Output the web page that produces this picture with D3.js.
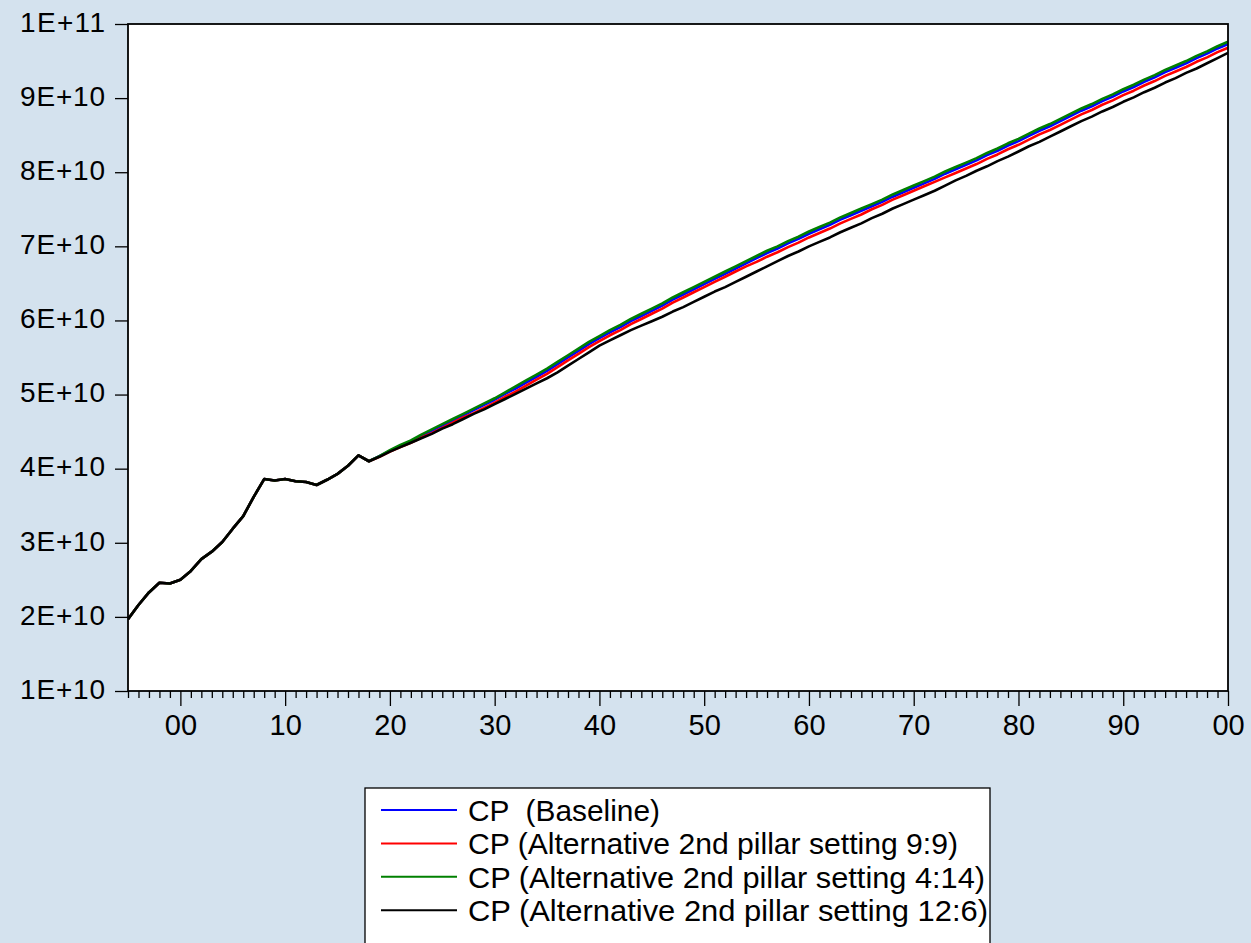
<!DOCTYPE html>
<html>
<head>
<meta charset="utf-8">
<script src="https://cdn.jsdelivr.net/npm/d3@7"></script>
<style>
  html, body { margin: 0; padding: 0; background: #D4E2EE; }
  svg { display: block; }
  text { font-family: "Liberation Sans", Arial, sans-serif; fill: #000; }
</style>
</head>
<body>
<svg id="chart" width="1251" height="943"></svg>
<script>
// ---------------- DATA (values in units of 1E+10) ----------------
const UNIT = 1e10;
const histYears = d3.range(1995, 2019);            // 1995..2018
const projYears = d3.range(2019, 2101);            // 2019..2100
const histValues = [1.97, 2.16, 2.33, 2.46, 2.45, 2.50, 2.62, 2.78, 2.88, 3.01,
                    3.19, 3.36, 3.62, 3.86, 3.84, 3.86, 3.83, 3.82, 3.78, 3.85,
                    3.93, 4.04, 4.18, 4.10];
const baselineProj = [4.17, 4.24, 4.31, 4.37, 4.44, 4.51, 4.58, 4.65, 4.72, 4.79,
  4.86, 4.93, 5.01, 5.08, 5.16, 5.24, 5.32, 5.41, 5.50, 5.59,
  5.68, 5.76, 5.84, 5.91, 5.99, 6.06, 6.13, 6.20, 6.28, 6.35,
  6.42, 6.49, 6.56, 6.63, 6.70, 6.77, 6.84, 6.91, 6.97, 7.04,
  7.10, 7.17, 7.23, 7.29, 7.36, 7.42, 7.48, 7.54, 7.60, 7.67,
  7.73, 7.79, 7.85, 7.91, 7.98, 8.04, 8.10, 8.16, 8.23, 8.29,
  8.36, 8.42, 8.49, 8.56, 8.62, 8.69, 8.76, 8.83, 8.89, 8.96,
  9.02, 9.09, 9.15, 9.22, 9.28, 9.35, 9.41, 9.47, 9.54, 9.60,
  9.67, 9.73];
const alt99Proj = [4.16, 4.23, 4.29, 4.35, 4.42, 4.48, 4.55, 4.62, 4.69, 4.75,
  4.82, 4.89, 4.97, 5.04, 5.12, 5.20, 5.28, 5.37, 5.46, 5.55,
  5.64, 5.72, 5.80, 5.87, 5.95, 6.02, 6.09, 6.16, 6.24, 6.31,
  6.38, 6.45, 6.52, 6.59, 6.66, 6.73, 6.79, 6.86, 6.92, 6.99,
  7.05, 7.12, 7.18, 7.24, 7.31, 7.37, 7.43, 7.50, 7.56, 7.63,
  7.69, 7.75, 7.81, 7.87, 7.93, 7.99, 8.05, 8.11, 8.18, 8.24,
  8.31, 8.37, 8.44, 8.51, 8.57, 8.64, 8.71, 8.78, 8.84, 8.91,
  8.97, 9.04, 9.10, 9.17, 9.23, 9.30, 9.36, 9.42, 9.49, 9.55,
  9.62, 9.68];
const alt414Proj = [4.17, 4.25, 4.32, 4.38, 4.46, 4.53, 4.60, 4.67, 4.74, 4.81,
  4.88, 4.95, 5.03, 5.11, 5.19, 5.27, 5.35, 5.44, 5.53, 5.62,
  5.71, 5.79, 5.87, 5.94, 6.02, 6.09, 6.16, 6.23, 6.31, 6.38,
  6.45, 6.52, 6.59, 6.66, 6.73, 6.80, 6.87, 6.94, 7.00, 7.07,
  7.13, 7.20, 7.26, 7.32, 7.39, 7.45, 7.51, 7.57, 7.63, 7.70,
  7.76, 7.82, 7.88, 7.94, 8.01, 8.07, 8.13, 8.19, 8.26, 8.32,
  8.39, 8.45, 8.52, 8.59, 8.65, 8.72, 8.79, 8.86, 8.92, 8.99,
  9.05, 9.12, 9.18, 9.25, 9.31, 9.38, 9.44, 9.50, 9.57, 9.63,
  9.70, 9.76];
const alt126Proj = [4.16, 4.23, 4.29, 4.35, 4.41, 4.47, 4.54, 4.60, 4.67, 4.74,
  4.80, 4.87, 4.94, 5.01, 5.08, 5.15, 5.22, 5.30, 5.39, 5.48,
  5.57, 5.66, 5.73, 5.80, 5.87, 5.93, 5.99, 6.05, 6.12, 6.18,
  6.25, 6.32, 6.39, 6.45, 6.52, 6.59, 6.66, 6.73, 6.80, 6.87,
  6.93, 7.00, 7.06, 7.12, 7.19, 7.25, 7.31, 7.38, 7.44, 7.51,
  7.57, 7.63, 7.69, 7.75, 7.82, 7.89, 7.95, 8.02, 8.08, 8.15,
  8.21, 8.28, 8.35, 8.41, 8.48, 8.55, 8.62, 8.69, 8.75, 8.82,
  8.88, 8.95, 9.01, 9.08, 9.14, 9.21, 9.27, 9.34, 9.40, 9.47,
  9.54, 9.61];

const seriesNames = ["CP  (Baseline)",
                     "CP (Alternative 2nd pillar setting 9:9)",
                     "CP (Alternative 2nd pillar setting 4:14)",
                     "CP (Alternative 2nd pillar setting 12:6)"];
const seriesColors = ["#0000FF", "#FF0000", "#008000", "#000000"];
const seriesProj = [baselineProj, alt99Proj, alt414Proj, alt126Proj];
const legendTextWidths = [192, 490, 517, 520];

const yTickValues = d3.range(1, 11);   // 1E+10 .. 1E+11 (units of 1E+10)
const yTickLabels = ["1E+10","2E+10","3E+10","4E+10","5E+10","6E+10","7E+10","8E+10","9E+10","1E+11"];
const xMajorYears = d3.range(2000, 2101, 10);
const xMajorLabels = ["00","10","20","30","40","50","60","70","80","90","00"];

// ---------------- LAYOUT ----------------
const svg = d3.select("#chart");
const plot = { left: 128, top: 24, right: 1228, bottom: 691 };

const x = d3.scaleLinear().domain([1995, 2100]).range([plot.left, plot.right]);
const y = d3.scaleLinear().domain([1 * UNIT, 10 * UNIT]).range([plot.bottom, plot.top]);

svg.append("rect").attr("width", 1251).attr("height", 943).attr("fill", "#D4E2EE");
svg.append("rect")
  .attr("x", plot.left).attr("y", plot.top)
  .attr("width", plot.right - plot.left).attr("height", plot.bottom - plot.top)
  .attr("fill", "#FFFFFF");

// series lines
const allYears = histYears.concat(projYears);
const line = d3.line().x(d => x(d.year)).y(d => y(d.value * UNIT));
const series = seriesProj.map((proj, i) => ({
  name: seriesNames[i], color: seriesColors[i], textWidth: legendTextWidths[i],
  values: allYears.map((yr, j) => ({ year: yr, value: histValues.concat(proj)[j] }))
}));

svg.append("clipPath").attr("id", "clip").append("rect")
  .attr("x", plot.left).attr("y", plot.top)
  .attr("width", plot.right - plot.left).attr("height", plot.bottom - plot.top);

svg.append("g").attr("clip-path", "url(#clip)")
  .selectAll("path").data(series).join("path")
  .attr("d", d => line(d.values))
  .attr("fill", "none")
  .attr("stroke", d => d.color)
  .attr("stroke-width", 2.6)
  .attr("stroke-linejoin", "round");

// frame
svg.append("rect")
  .attr("x", plot.left).attr("y", plot.top)
  .attr("width", plot.right - plot.left).attr("height", plot.bottom - plot.top)
  .attr("fill", "none").attr("stroke", "#000").attr("stroke-width", 1.8);

// Y axis
const yAxis = d3.axisLeft(y)
  .tickValues(yTickValues.map(v => v * UNIT))
  .tickFormat((d, i) => yTickLabels[i])
  .tickSize(13).tickPadding(10);
const gy = svg.append("g").attr("transform", `translate(${plot.left},0)`).call(yAxis);
gy.select(".domain").remove();
gy.selectAll(".tick line").attr("stroke", "#000").attr("stroke-width", 1.3);
gy.selectAll(".tick text")
  .attr("font-family", "Liberation Sans, Arial, sans-serif")
  .attr("font-size", 28).attr("dy", "0.26em")
  .attr("textLength", 85).attr("lengthAdjust", "spacing");

// X axis minor ticks (every year)
const xMinor = d3.axisBottom(x)
  .tickValues(d3.range(1995, 2101).filter(v => v % 10 !== 0))
  .tickFormat("").tickSize(7);
const gxm = svg.append("g").attr("transform", `translate(0,${plot.bottom})`).call(xMinor);
gxm.select(".domain").remove();
gxm.selectAll(".tick line").attr("stroke", "#000").attr("stroke-width", 1.3);

// X axis major ticks
const xMajor = d3.axisBottom(x)
  .tickValues(xMajorYears)
  .tickFormat((d, i) => xMajorLabels[i])
  .tickSize(15).tickPadding(8);
const gx = svg.append("g").attr("transform", `translate(0,${plot.bottom})`).call(xMajor);
gx.select(".domain").remove();
gx.selectAll(".tick line").attr("stroke", "#000").attr("stroke-width", 1.3);
gx.selectAll(".tick text")
  .attr("font-family", "Liberation Sans, Arial, sans-serif")
  .attr("font-size", 29).attr("dy", "0.71em");

// Legend
const lg = svg.append("g");
lg.append("rect").attr("x", 365).attr("y", 788).attr("width", 625).attr("height", 200)
  .attr("fill", "#FFFFFF").attr("stroke", "#000").attr("stroke-width", 1.3);
const rows = lg.selectAll("g.row").data(series).join("g").attr("class", "row")
  .attr("transform", (d, i) => `translate(0,${810 + i * 33.4})`);
rows.append("line").attr("x1", 381).attr("x2", 457).attr("y1", 0).attr("y2", 0)
  .attr("stroke", d => d.color).attr("stroke-width", 2);
rows.append("text").attr("x", 468).attr("y", 0).attr("dy", "0.36em")
  .attr("font-size", 30)
  .style("white-space", "pre")
  .attr("textLength", d => d.textWidth)
  .attr("lengthAdjust", "spacingAndGlyphs")
  .text(d => d.name);
</script>
</body>
</html>
